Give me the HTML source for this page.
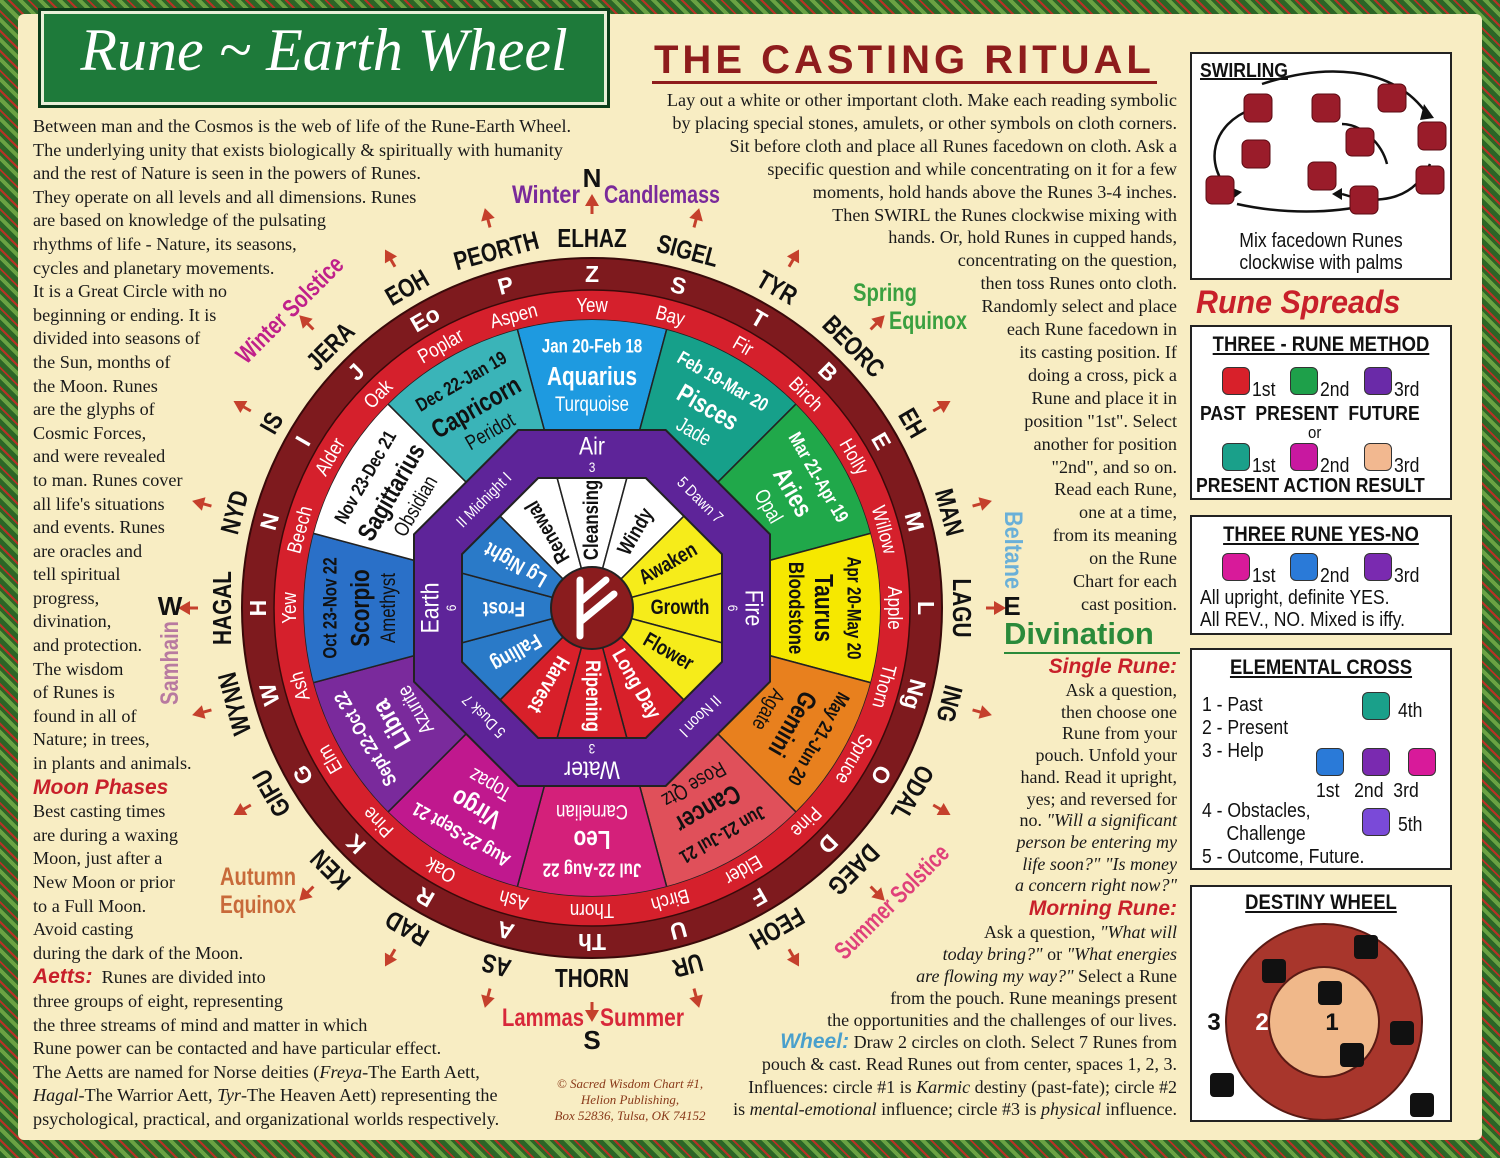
<!DOCTYPE html>
<html><head><meta charset="utf-8">
<style>
*{margin:0;padding:0;box-sizing:border-box}
body{width:1500px;height:1158px;overflow:hidden;background:#2f6a2a;font-family:"Liberation Serif",serif;position:relative}
.frame{position:absolute;left:0;top:0;width:1500px;height:1158px;background:repeating-linear-gradient(45deg,#2c6526 0 5px,#6aa243 5px 9px,#2c6526 9px 12px,#b83226 12px 14px)}
.cream{position:absolute;left:18px;top:14px;width:1464px;height:1126px;background:#f8edc3;border-radius:6px}
.abs{position:absolute;white-space:nowrap}
.left{left:33px;top:115px;font-size:18.2px;line-height:23.6px;color:#1a1a1a}
.h{font-family:"Liberation Sans",sans-serif;font-weight:bold;font-style:italic;color:#c8202a;font-size:21px}
.right{right:323px;top:89px;font-size:18.2px;line-height:22.9px;text-align:right;color:#1a1a1a}
.r2{right:323px;text-align:right;font-size:18px;color:#1a1a1a}
.panel{position:absolute;left:1190px;width:262px;background:#fff;border:2px solid #222;font-family:"Liberation Sans",sans-serif;color:#111;overflow:hidden}
.pt{position:absolute;left:0;width:100%;text-align:center;font-weight:bold;font-size:21px;text-decoration:underline;transform:scaleX(.88);white-space:nowrap}
.sq{position:absolute;width:28px;height:28px;border-radius:6px;border:1px solid #333}
.lab{position:absolute;font-size:20px;transform:scaleX(.88);transform-origin:left;white-space:nowrap}
</style></head><body>
<div class="frame"></div>
<div class="cream"></div>

<div class="abs" style="left:38px;top:8px;width:572px;height:100px;background:#1e7a3a;border:3px solid #0c3d1a;box-shadow:inset 0 0 0 3px #e8f0d8,inset 0 0 0 6px #1e7a3a;"></div>
<div class="abs" style="left:38px;top:16px;width:572px;text-align:center;font-size:60px;font-style:italic;color:#fff;font-family:'Liberation Serif',serif;">Rune ~ Earth Wheel</div>

<div class="abs" style="left:654px;top:38px;font-family:'Liberation Sans',sans-serif;font-weight:bold;font-size:40px;color:#8e1c1c;letter-spacing:4px;">THE CASTING RITUAL</div>
<div class="abs" style="left:652px;top:81px;width:505px;height:3px;background:#8e1c1c"></div>

<div class="abs left">Between man and the Cosmos is the web of life of the Rune-Earth Wheel.<br>The underlying unity that exists biologically &amp; spiritually with humanity<br>and the rest of Nature is seen in the powers of Runes.<br>They operate on all levels and all dimensions. Runes<br>are based on knowledge of the pulsating<br>rhythms of life - Nature, its seasons,<br>cycles and planetary movements.<br>It is a Great Circle with no<br>beginning or ending. It is<br>divided into seasons of<br>the Sun, months of<br>the Moon. Runes<br>are the glyphs of<br>Cosmic Forces,<br>and were revealed<br>to man. Runes cover<br>all life's situations<br>and events. Runes<br>are oracles and<br>tell spiritual<br>progress,<br>divination,<br>and protection.<br>The wisdom<br>of Runes is<br>found in all of<br>Nature; in trees,<br>in plants and animals.<br><span class="h">Moon Phases</span><br>Best casting times<br>are during a waxing<br>Moon, just after a<br>New Moon or prior<br>to a Full Moon.<br>Avoid casting<br>during the dark of the Moon.<br><span class="h">Aetts:</span> &nbsp;Runes are divided into<br>three groups of eight, representing<br>the three streams of mind and matter in which<br>Rune power can be contacted and have particular effect.<br>The Aetts are named for Norse deities (<i>Freya</i>-The Earth Aett,<br><i>Hagal</i>-The Warrior Aett, <i>Tyr</i>-The Heaven Aett) representing the<br>psychological, practical, and organizational worlds respectively.</div>

<div class="abs right">Lay out a white or other important cloth. Make each reading symbolic<br>by placing special stones, amulets, or other symbols on cloth corners.<br>Sit before cloth and place all Runes facedown on cloth. Ask a<br>specific question and while concentrating on it for a few<br>moments, hold hands above the Runes 3-4 inches.<br>Then SWIRL the Runes clockwise mixing with<br>hands. Or, hold Runes in cupped hands,<br>concentrating on the question,<br>then toss Runes onto cloth.<br>Randomly select and place<br>each Rune facedown in<br>its casting position. If<br>doing a cross, pick a<br>Rune and place it in<br>position "1st". Select<br>another for position<br>"2nd", and so on.<br>Read each Rune,<br>one at a time,<br>from its meaning<br>on the Rune<br>Chart for each<br>cast position.</div>

<div class="abs" style="left:1004px;top:616px;font-family:'Liberation Sans',sans-serif;font-weight:bold;font-size:31px;color:#2a8a3a;">Divination</div>
<div class="abs" style="left:1004px;top:652px;width:176px;height:2px;background:#2a8a3a"></div>
<div class="abs r2" style="top:655px;"><span class="h">Single Rune:</span></div>
<div class="abs r2" style="top:680px;line-height:21.7px;">Ask a question,<br>then choose one<br>Rune from your<br>pouch. Unfold your<br>hand. Read it upright,<br>yes; and reversed for<br>no. <i>"Will a significant</i><br><i>person be entering my</i><br><i>life soon?" "Is money</i><br><i>a concern right now?"</i></div>
<div class="abs r2" style="top:897px;"><span class="h">Morning Rune:</span></div>
<div class="abs r2" style="top:921px;line-height:22px;">Ask a question, <i>"What will</i><br><i>today bring?"</i> or <i>"What energies</i><br><i>are flowing my way?"</i> Select a Rune<br>from the pouch. Rune meanings present<br>the opportunities and the challenges of our lives.</div>
<div class="abs r2" style="top:1031px;line-height:22.3px;"><span class="h" style="color:#4aa0cc">Wheel:</span> Draw 2 circles on cloth. Select 7 Runes from<br>pouch &amp; cast. Read Runes out from center, spaces 1, 2, 3.<br>Influences: circle #1 is <i>Karmic</i> destiny (past-fate); circle #2<br>is <i>mental-emotional</i> influence; circle #3 is <i>physical</i> influence.</div>

<div class="abs" style="left:540px;top:1076px;width:180px;text-align:center;font-size:13px;line-height:16px;font-style:italic;color:#8a3a1a;">© Sacred Wisdom Chart #1,<br>Helion Publishing,<br>Box 52836, Tulsa, OK 74152</div>

<svg class="abs" style="left:0;top:0" width="1500" height="1158" viewBox="0 0 1500 1158" font-family="Liberation Sans, sans-serif">
<defs>
<clipPath id="oct"><polygon points="130,53.8 53.8,130 -53.8,130 -130,53.8 -130,-53.8 -53.8,-130 53.8,-130 130,-53.8"/></clipPath>
<clipPath id="zc"><circle cx="0" cy="0" r="288"/></clipPath>
<path id="zw" d="M0,0 L-77.1,-287.8 A298,298 0 0 1 77.1,-287.8 Z"/>
<path id="iw" d="M0,0 L-42,-157 L42,-157 Z"/>
</defs>
<g transform="translate(592,608)">
<circle r="350" fill="#7e1a1e" stroke="#3a0a0a" stroke-width="2"/>
<circle r="318" fill="#d5202c" stroke="#3a0a0a" stroke-width="1.5"/>
<circle r="288" fill="#fff" stroke="#222" stroke-width="1.5"/>
<g clip-path="url(#zc)" stroke="#222" stroke-width="1.5">
<use href="#zw" fill="#1e9ae0" transform="rotate(0)"/>
<use href="#zw" fill="#16a08a" transform="rotate(30)"/>
<use href="#zw" fill="#20a84a" transform="rotate(60)"/>
<use href="#zw" fill="#f6e800" transform="rotate(90)"/>
<use href="#zw" fill="#e8801e" transform="rotate(120)"/>
<use href="#zw" fill="#e0505a" transform="rotate(150)"/>
<use href="#zw" fill="#d4207a" transform="rotate(180)"/>
<use href="#zw" fill="#c0188e" transform="rotate(210)"/>
<use href="#zw" fill="#7a2a9c" transform="rotate(240)"/>
<use href="#zw" fill="#2a70c8" transform="rotate(270)"/>
<use href="#zw" fill="#ffffff" transform="rotate(300)"/>
<use href="#zw" fill="#3ab4b8" transform="rotate(330)"/>
</g>
<polygon points="178,73.7 73.7,178 -73.7,178 -178,73.7 -178,-73.7 -73.7,-178 73.7,-178 178,-73.7" fill="#5e2499" stroke="#222" stroke-width="2"/>
<g clip-path="url(#oct)" stroke="#222" stroke-width="1.5">
<use href="#iw" fill="#fff" transform="rotate(-30)"/>
<use href="#iw" fill="#fff" transform="rotate(0)"/>
<use href="#iw" fill="#fff" transform="rotate(30)"/>
<use href="#iw" fill="#f6ec1a" transform="rotate(60)"/>
<use href="#iw" fill="#f6ec1a" transform="rotate(90)"/>
<use href="#iw" fill="#f6ec1a" transform="rotate(120)"/>
<use href="#iw" fill="#d8202a" transform="rotate(150)"/>
<use href="#iw" fill="#d8202a" transform="rotate(180)"/>
<use href="#iw" fill="#d8202a" transform="rotate(210)"/>
<use href="#iw" fill="#2a7ac8" transform="rotate(240)"/>
<use href="#iw" fill="#2a7ac8" transform="rotate(270)"/>
<use href="#iw" fill="#2a7ac8" transform="rotate(300)"/>
</g>
<polygon points="130,53.8 53.8,130 -53.8,130 -130,53.8 -130,-53.8 -53.8,-130 53.8,-130 130,-53.8" fill="none" stroke="#222" stroke-width="2"/>
<circle r="41" fill="#8a1c1e" stroke="#222" stroke-width="2"/>
<g stroke="#fff" stroke-width="7" stroke-linecap="round" fill="none"><path d="M-12,28 L-12,-28"/><path d="M-12,-6 L14,-28"/><path d="M-12,14 L22,-14"/></g>

<g text-anchor="middle" dominant-baseline="central" font-weight="bold">
<g transform="rotate(0) scale(0.8,1)" fill="#fff"><text y="-262" font-size="19">Jan 20-Feb 18</text><text y="-232" font-size="26">Aquarius</text><text y="-203" font-size="21" font-weight="normal">Turquoise</text></g>
<g transform="rotate(30) scale(0.8,1)" fill="#fff"><text y="-262" font-size="19">Feb 19-Mar 20</text><text y="-232" font-size="26">Pisces</text><text y="-203" font-size="21" font-weight="normal">Jade</text></g>
<g transform="rotate(60) scale(0.8,1)" fill="#fff"><text y="-262" font-size="19">Mar 21-Apr 19</text><text y="-232" font-size="26">Aries</text><text y="-203" font-size="21" font-weight="normal">Opal</text></g>
<g transform="rotate(90) scale(0.8,1)" fill="#111"><text y="-262" font-size="19">Apr 20-May 20</text><text y="-232" font-size="26">Taurus</text><text y="-203" font-size="21">Bloodstone</text></g>
<g transform="rotate(120) scale(0.8,1)" fill="#111"><text y="-262" font-size="19">May 21-Jun 20</text><text y="-232" font-size="26">Gemini</text><text y="-203" font-size="21" font-weight="normal">Agate</text></g>
<g transform="rotate(150) scale(0.8,1)" fill="#111"><text y="-262" font-size="19">Jun 21-Jul 21</text><text y="-232" font-size="26">Cancer</text><text y="-203" font-size="21" font-weight="normal">Rose Qtz</text></g>
<g transform="rotate(180) scale(0.8,1)" fill="#fff"><text y="-262" font-size="19">Jul 22-Aug 22</text><text y="-232" font-size="26">Leo</text><text y="-203" font-size="21" font-weight="normal">Carnelian</text></g>
<g transform="rotate(210) scale(0.8,1)" fill="#fff"><text y="-262" font-size="19">Aug 22-Sept 21</text><text y="-232" font-size="26">Virgo</text><text y="-203" font-size="21" font-weight="normal">Topaz</text></g>
<g transform="rotate(240) scale(0.8,1)" fill="#fff"><text y="-262" font-size="19">Sept 22-Oct 22</text><text y="-232" font-size="26">Libra</text><text y="-203" font-size="21" font-weight="normal">Azurite</text></g>
<g transform="rotate(270) scale(0.8,1)" fill="#111"><text y="-262" font-size="19">Oct 23-Nov 22</text><text y="-232" font-size="26">Scorpio</text><text y="-203" font-size="21" font-weight="normal">Amethyst</text></g>
<g transform="rotate(300) scale(0.8,1)" fill="#111"><text y="-262" font-size="19">Nov 23-Dec 21</text><text y="-232" font-size="26">Sagittarius</text><text y="-203" font-size="21" font-weight="normal">Obsidian</text></g>
<g transform="rotate(330) scale(0.8,1)" fill="#111"><text y="-262" font-size="19">Dec 22-Jan 19</text><text y="-232" font-size="26">Capricorn</text><text y="-203" font-size="21" font-weight="normal">Peridot</text></g>
</g>

<g text-anchor="middle" dominant-baseline="central" fill="#fff" font-size="25">
<g transform="rotate(0) scale(0.85,1)"><text y="-162">Air</text><text y="-141" font-size="14">3</text></g>
<g transform="rotate(90) scale(0.85,1)"><text y="-162">Fire</text><text y="-141" font-size="14">6</text></g>
<g transform="rotate(180) scale(0.85,1)"><text y="-162">Water</text><text y="-141" font-size="14">3</text></g>
<g transform="rotate(270) scale(0.85,1)"><text y="-162">Earth</text><text y="-141" font-size="14">6</text></g>
<g font-size="16"><text y="-152" transform="rotate(-45) scale(0.85,1)">II Midnight I</text><text y="-152" transform="rotate(45) scale(0.85,1)">5 Dawn 7</text><text y="-152" transform="rotate(135) scale(0.85,1)">II Noon I</text><text y="-152" transform="rotate(225) scale(0.85,1)">5 Dusk 7</text></g>
</g>

<g text-anchor="middle" dominant-baseline="central" font-size="21" font-weight="bold">
<text x="110" transform="rotate(-120) scale(0.8,1)" fill="#111">Renewal</text>
<text x="110" transform="rotate(-90) scale(0.8,1)" fill="#111">Cleansing</text>
<text x="110" transform="rotate(-60) scale(0.8,1)" fill="#111">Windy</text>
<text x="110" transform="rotate(-30) scale(0.8,1)" fill="#111">Awaken</text>
<text x="110" transform="rotate(0) scale(0.8,1)" fill="#111">Growth</text>
<text x="110" transform="rotate(30) scale(0.8,1)" fill="#111">Flower</text>
<text x="110" transform="rotate(60) scale(0.8,1)" fill="#fff">Long Day</text>
<text x="110" transform="rotate(90) scale(0.8,1)" fill="#fff">Ripening</text>
<text x="110" transform="rotate(120) scale(0.8,1)" fill="#fff">Harvest</text>
<text x="110" transform="rotate(150) scale(0.8,1)" fill="#fff">Falling</text>
<text x="110" transform="rotate(180) scale(0.8,1)" fill="#fff">Frost</text>
<text x="110" transform="rotate(210) scale(0.8,1)" fill="#fff">Lg Night</text>
</g>

<g text-anchor="middle" dominant-baseline="central" font-weight="bold">
<g fill="#fff" font-size="23">
<text y="-334" transform="rotate(0)">Z</text><text y="-334" transform="rotate(15)">S</text><text y="-334" transform="rotate(30)">T</text><text y="-334" transform="rotate(45)">B</text><text y="-334" transform="rotate(60)">E</text><text y="-334" transform="rotate(75)">M</text><text y="-334" transform="rotate(90)">L</text><text y="-334" transform="rotate(105)">Ng</text><text y="-334" transform="rotate(120)">O</text><text y="-334" transform="rotate(135)">D</text><text y="-334" transform="rotate(150)">F</text><text y="-334" transform="rotate(165)">U</text><text y="-334" transform="rotate(180)">Th</text><text y="-334" transform="rotate(195)">A</text><text y="-334" transform="rotate(210)">R</text><text y="-334" transform="rotate(225)">K</text><text y="-334" transform="rotate(240)">G</text><text y="-334" transform="rotate(255)">W</text><text y="-334" transform="rotate(270)">H</text><text y="-334" transform="rotate(285)">N</text><text y="-334" transform="rotate(300)">I</text><text y="-334" transform="rotate(315)">J</text><text y="-334" transform="rotate(330)">Eo</text><text y="-334" transform="rotate(345)">P</text>
</g>
<g fill="#fff" font-size="20" font-weight="normal">
<text y="-303" transform="rotate(0) scale(0.85,1)">Yew</text><text y="-303" transform="rotate(15) scale(0.85,1)">Bay</text><text y="-303" transform="rotate(30) scale(0.85,1)">Fir</text><text y="-303" transform="rotate(45) scale(0.85,1)">Birch</text><text y="-303" transform="rotate(60) scale(0.85,1)">Holly</text><text y="-303" transform="rotate(75) scale(0.85,1)">Willow</text><text y="-303" transform="rotate(90) scale(0.85,1)">Apple</text><text y="-303" transform="rotate(105) scale(0.85,1)">Thorn</text><text y="-303" transform="rotate(120) scale(0.85,1)">Spruce</text><text y="-303" transform="rotate(135) scale(0.85,1)">Pine</text><text y="-303" transform="rotate(150) scale(0.85,1)">Elder</text><text y="-303" transform="rotate(165) scale(0.85,1)">Birch</text><text y="-303" transform="rotate(180) scale(0.85,1)">Thorn</text><text y="-303" transform="rotate(195) scale(0.85,1)">Ash</text><text y="-303" transform="rotate(210) scale(0.85,1)">Oak</text><text y="-303" transform="rotate(225) scale(0.85,1)">Pine</text><text y="-303" transform="rotate(240) scale(0.85,1)">Elm</text><text y="-303" transform="rotate(255) scale(0.85,1)">Ash</text><text y="-303" transform="rotate(270) scale(0.85,1)">Yew</text><text y="-303" transform="rotate(285) scale(0.85,1)">Beech</text><text y="-303" transform="rotate(300) scale(0.85,1)">Alder</text><text y="-303" transform="rotate(315) scale(0.85,1)">Oak</text><text y="-303" transform="rotate(330) scale(0.85,1)">Poplar</text><text y="-303" transform="rotate(345) scale(0.85,1)">Aspen</text>
</g>
<g fill="#111" font-size="26">
<text y="-370" transform="rotate(0) scale(0.8,1)">ELHAZ</text><text y="-370" transform="rotate(15) scale(0.8,1)">SIGEL</text><text y="-370" transform="rotate(30) scale(0.8,1)">TYR</text><text y="-370" transform="rotate(45) scale(0.8,1)">BEORC</text><text y="-370" transform="rotate(60) scale(0.8,1)">EH</text><text y="-370" transform="rotate(75) scale(0.8,1)">MAN</text><text y="-370" transform="rotate(90) scale(0.8,1)">LAGU</text><text y="-370" transform="rotate(105) scale(0.8,1)">ING</text><text y="-370" transform="rotate(120) scale(0.8,1)">ODAL</text><text y="-370" transform="rotate(135) scale(0.8,1)">DAEG</text><text y="-370" transform="rotate(150) scale(0.8,1)">FEOH</text><text y="-370" transform="rotate(165) scale(0.8,1)">UR</text><text y="370" transform="rotate(0) scale(0.8,1)">THORN</text><text y="-370" transform="rotate(195) scale(0.8,1)">AS</text><text y="-370" transform="rotate(210) scale(0.8,1)">RAD</text><text y="-370" transform="rotate(225) scale(0.8,1)">KEN</text><text y="-370" transform="rotate(240) scale(0.8,1)">GIFU</text><text y="-370" transform="rotate(255) scale(0.8,1)">WYNN</text><text y="-370" transform="rotate(270) scale(0.8,1)">HAGAL</text><text y="-370" transform="rotate(285) scale(0.8,1)">NYD</text><text y="-370" transform="rotate(300) scale(0.8,1)">IS</text><text y="-370" transform="rotate(315) scale(0.8,1)">JERA</text><text y="-370" transform="rotate(330) scale(0.8,1)">EOH</text><text y="-370" transform="rotate(345) scale(0.8,1)">PEORTH</text>
</g>
</g>
<g fill="#c5402c" stroke="#c5402c" stroke-width="3">
<g id="ar"><line x1="0" y1="-394" x2="0" y2="-404"/><polygon points="-7,-402 7,-402 0,-414" stroke="none"/></g>
<use href="#ar" transform="rotate(15)"/><use href="#ar" transform="rotate(30)"/><use href="#ar" transform="rotate(45)"/><use href="#ar" transform="rotate(60)"/><use href="#ar" transform="rotate(75)"/><use href="#ar" transform="rotate(90)"/><use href="#ar" transform="rotate(105)"/><use href="#ar" transform="rotate(120)"/><use href="#ar" transform="rotate(135)"/><use href="#ar" transform="rotate(150)"/><use href="#ar" transform="rotate(165)"/><use href="#ar" transform="rotate(180)"/><use href="#ar" transform="rotate(195)"/><use href="#ar" transform="rotate(210)"/><use href="#ar" transform="rotate(225)"/><use href="#ar" transform="rotate(240)"/><use href="#ar" transform="rotate(255)"/><use href="#ar" transform="rotate(270)"/><use href="#ar" transform="rotate(285)"/><use href="#ar" transform="rotate(300)"/><use href="#ar" transform="rotate(315)"/><use href="#ar" transform="rotate(330)"/><use href="#ar" transform="rotate(345)"/>
</g>
</g>

<g font-weight="bold" font-size="25" text-anchor="middle" dominant-baseline="central">
<text x="592" y="178" fill="#111" font-size="26">N</text>
<text x="546" y="195" fill="#7a2a9a" textLength="68" lengthAdjust="spacingAndGlyphs">Winter</text>
<text x="662" y="195" fill="#7a2a9a" textLength="116" lengthAdjust="spacingAndGlyphs">Candlemass</text>
<text x="1012" y="606" fill="#111" font-size="26">E</text>
<text x="170" y="606" fill="#111" font-size="26">W</text>
<text x="592" y="1040" fill="#111" font-size="26">S</text>
<text x="543" y="1018" fill="#d8283a" textLength="82" lengthAdjust="spacingAndGlyphs">Lammas</text>
<text x="642" y="1018" fill="#d8283a" textLength="84" lengthAdjust="spacingAndGlyphs">Summer</text>
<text x="885" y="293" fill="#3aa040" textLength="64" lengthAdjust="spacingAndGlyphs">Spring</text>
<text x="928" y="321" fill="#3aa040" textLength="78" lengthAdjust="spacingAndGlyphs">Equinox</text>
<text x="258" y="877" fill="#c86a3a" textLength="76" lengthAdjust="spacingAndGlyphs">Autumn</text>
<text x="258" y="905" fill="#c86a3a" textLength="76" lengthAdjust="spacingAndGlyphs">Equinox</text>
<text transform="translate(1013,550) rotate(90)" fill="#6ab0d8" textLength="78" lengthAdjust="spacingAndGlyphs">Beltane</text>
<text transform="translate(170,663) rotate(-90)" fill="#b87aa0" textLength="84" lengthAdjust="spacingAndGlyphs">Samhain</text>
<text transform="translate(892,902) rotate(-45)" fill="#e0407a" textLength="150" lengthAdjust="spacingAndGlyphs">Summer Solstice</text>
<text transform="translate(290,310) rotate(-45)" fill="#c0208a" textLength="140" lengthAdjust="spacingAndGlyphs">Winter Solstice</text>
</g>
</svg>

<div class="panel" style="top:52px;height:228px;">
 <div class="pt" style="left:8px;width:auto;top:6px;font-size:20px;transform-origin:left">SWIRLING</div>
 <svg class="abs" style="left:0;top:0" width="258" height="224">
  <g fill="none" stroke="#111" stroke-width="2.5">
   <path d="M40,140 C10,110 20,70 60,55"/><path d="M70,30 C130,10 200,10 235,60"/><path d="M238,110 C220,150 180,150 150,140"/><path d="M45,150 C90,160 140,160 180,150"/><path d="M150,70 C170,70 190,90 195,110"/>
  </g>
  <g fill="#111"><polygon points="60,48 68,58 55,62"/><polygon points="232,50 242,64 228,66"/><polygon points="42,144 36,132 50,138"/><polygon points="150,134 150,146 140,140"/></g>
  <g fill="#9a1c2a" stroke="#5a0a12">
   <rect x="52" y="40" width="28" height="28" rx="6"/><rect x="120" y="40" width="28" height="28" rx="6"/><rect x="186" y="30" width="28" height="28" rx="6"/><rect x="226" y="68" width="28" height="28" rx="6"/><rect x="154" y="74" width="28" height="28" rx="6"/><rect x="50" y="86" width="28" height="28" rx="6"/><rect x="116" y="108" width="28" height="28" rx="6"/><rect x="224" y="112" width="28" height="28" rx="6"/><rect x="14" y="122" width="28" height="28" rx="6"/><rect x="158" y="132" width="28" height="28" rx="6"/>
  </g>
 </svg>
 <div class="pt" style="top:176px;font-weight:normal;text-decoration:none;font-size:20px;line-height:22px">Mix facedown Runes<br>clockwise with palms</div>
</div>

<div class="abs" style="left:1196px;top:284px;font-family:'Liberation Sans',sans-serif;font-weight:bold;font-style:italic;font-size:32px;color:#c8202a;transform:scaleX(.95);transform-origin:left">Rune Spreads</div>

<div class="panel" style="top:325px;height:175px;">
 <div class="pt" style="top:6px">THREE - RUNE METHOD</div>
 <div class="sq" style="left:30px;top:40px;background:#d8202a"></div><div class="lab" style="left:60px;top:52px">1st</div>
 <div class="sq" style="left:98px;top:40px;background:#1ea04a"></div><div class="lab" style="left:128px;top:52px">2nd</div>
 <div class="sq" style="left:172px;top:40px;background:#6a2aa8"></div><div class="lab" style="left:202px;top:52px">3rd</div>
 <div class="lab" style="left:8px;top:76px;font-weight:bold">PAST &nbsp;PRESENT &nbsp;FUTURE</div>
 <div class="lab" style="left:116px;top:96px;font-size:17px">or</div>
 <div class="sq" style="left:30px;top:116px;background:#1aa08a"></div><div class="lab" style="left:60px;top:128px">1st</div>
 <div class="sq" style="left:98px;top:116px;background:#c818a0"></div><div class="lab" style="left:128px;top:128px">2nd</div>
 <div class="sq" style="left:172px;top:116px;background:#f2b890"></div><div class="lab" style="left:202px;top:128px">3rd</div>
 <div class="lab" style="left:4px;top:148px;font-weight:bold">PRESENT ACTION RESULT</div>
</div>

<div class="panel" style="top:515px;height:120px;">
 <div class="pt" style="top:6px">THREE RUNE YES-NO</div>
 <div class="sq" style="left:30px;top:36px;background:#d81a9a"></div><div class="lab" style="left:60px;top:48px">1st</div>
 <div class="sq" style="left:98px;top:36px;background:#2a7ad8"></div><div class="lab" style="left:128px;top:48px">2nd</div>
 <div class="sq" style="left:172px;top:36px;background:#7a2ab0"></div><div class="lab" style="left:202px;top:48px">3rd</div>
 <div class="lab" style="left:8px;top:70px;">All upright, definite YES.</div>
 <div class="lab" style="left:8px;top:92px;">All REV., NO. Mixed is iffy.</div>
</div>

<div class="panel" style="top:648px;height:222px;">
 <div class="pt" style="top:6px">ELEMENTAL CROSS</div>
 <div class="lab" style="left:10px;top:44px;line-height:23px">1 - Past<br>2 - Present<br>3 - Help</div>
 <div class="sq" style="left:170px;top:42px;background:#1aa08a"></div><div class="lab" style="left:206px;top:50px">4th</div>
 <div class="sq" style="left:124px;top:98px;background:#2a7ad8"></div>
 <div class="sq" style="left:170px;top:98px;background:#7a2ab0"></div>
 <div class="sq" style="left:216px;top:98px;background:#d81a9a"></div>
 <div class="lab" style="left:124px;top:130px">1st &nbsp;&nbsp;2nd &nbsp;3rd</div>
 <div class="lab" style="left:10px;top:150px;line-height:23px">4 - Obstacles,<br>&nbsp;&nbsp;&nbsp;&nbsp;&nbsp;Challenge<br>5 - Outcome, Future.</div>
 <div class="sq" style="left:170px;top:158px;background:#7a4ad8"></div><div class="lab" style="left:206px;top:164px">5th</div>
</div>

<div class="panel" style="top:885px;height:237px;">
 <div class="pt" style="top:4px">DESTINY WHEEL</div>
 <svg class="abs" style="left:0;top:0" width="258" height="233">
  <circle cx="132" cy="135" r="98" fill="#a8362c" stroke="#5a1a14" stroke-width="2"/>
  <circle cx="132" cy="135" r="55" fill="#f0b88a" stroke="#5a1a14" stroke-width="2"/>
  <g font-family="Liberation Sans, sans-serif" font-weight="bold" font-size="24" text-anchor="middle"><text x="22" y="143" fill="#111">3</text><text x="70" y="143" fill="#fff">2</text><text x="140" y="143" fill="#111">1</text></g>
  <g fill="#111"><rect x="162" y="48" width="24" height="24" rx="4"/><rect x="70" y="72" width="24" height="24" rx="4"/><rect x="126" y="94" width="24" height="24" rx="4"/><rect x="198" y="134" width="24" height="24" rx="4"/><rect x="148" y="156" width="24" height="24" rx="4"/><rect x="18" y="186" width="24" height="24" rx="4"/><rect x="218" y="206" width="24" height="24" rx="4"/></g>
 </svg>
</div>
</body></html>
